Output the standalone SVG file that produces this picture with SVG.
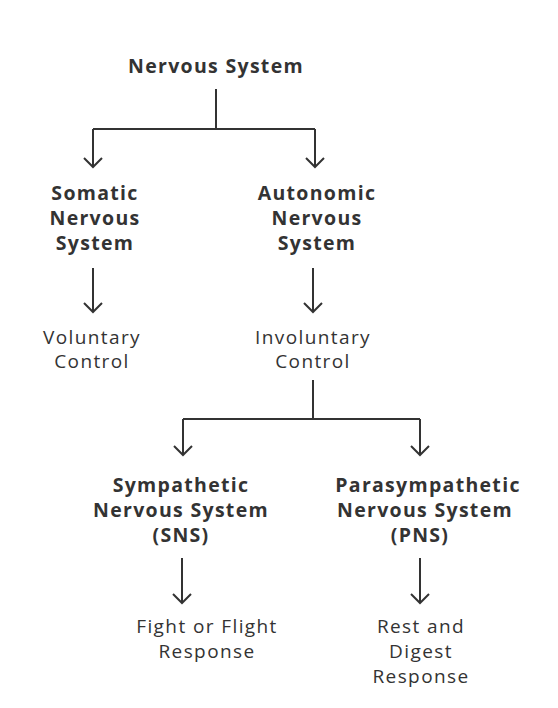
<svg xmlns="http://www.w3.org/2000/svg" width="558" height="708" viewBox="0 0 558 708">
<style>
.b{font-family:"Open Sans","Liberation Sans",sans-serif;font-weight:700;font-size:19.5px;letter-spacing:1.3px;fill:#333;text-anchor:middle}
.l{font-family:"Open Sans","Liberation Sans",sans-serif;font-weight:400;font-size:19px;letter-spacing:1.4px;fill:#333;text-anchor:middle}
.c{fill:none;stroke:#333;stroke-width:2;stroke-linecap:butt;stroke-linejoin:miter}
</style>
<rect width="558" height="708" fill="#fff"/>
<g id="connectors">
<path class="c" d="M216 89V129M93 129H315M93 129V167M315 129V167"/>
<path class="c" d="M84 158L93 167L102 158M306 158L315 167L324 158"/>
<path class="c" d="M93 268V312M84 303L93 312L102 303"/>
<path class="c" d="M313 268V312M304 303L313 312L322 303"/>
<path class="c" d="M313 380V419M183 419H420M183 419V455M420 419V455"/>
<path class="c" d="M174 446L183 455L192 446M411 446L420 455L429 446"/>
<path class="c" d="M182 558V603M173 594L182 603L191 594"/>
<path class="c" d="M420 558V603M411 594L420 603L429 594"/>
</g>
<g id="nervous-system"><text class="b" x="216" y="73">Nervous System</text></g>
<g id="somatic"><text class="b" x="95" y="200">Somatic</text><text class="b" x="95" y="225">Nervous</text><text class="b" x="95" y="250">System</text></g>
<g id="autonomic"><text class="b" x="317" y="200">Autonomic</text><text class="b" x="317" y="225">Nervous</text><text class="b" x="317" y="250">System</text></g>
<g id="voluntary"><text class="l" x="92" y="344">Voluntary</text><text class="l" x="92" y="368">Control</text></g>
<g id="involuntary"><text class="l" x="313" y="344">Involuntary</text><text class="l" x="313" y="368">Control</text></g>
<g id="sympathetic"><text class="b" x="181" y="492">Sympathetic</text><text class="b" x="181" y="517">Nervous System</text><text class="b" x="181" y="542">(SNS)</text></g>
<g id="parasympathetic"><text class="b" x="428" y="492">Parasympathetic</text><text class="b" x="425" y="517">Nervous System</text><text class="b" x="420" y="542">(PNS)</text></g>
<g id="fight-flight"><text class="l" x="207" y="633">Fight or Flight</text><text class="l" x="207" y="658">Response</text></g>
<g id="rest-digest"><text class="l" x="421" y="633">Rest and</text><text class="l" x="421" y="658">Digest</text><text class="l" x="421" y="683">Response</text></g>
</svg>
